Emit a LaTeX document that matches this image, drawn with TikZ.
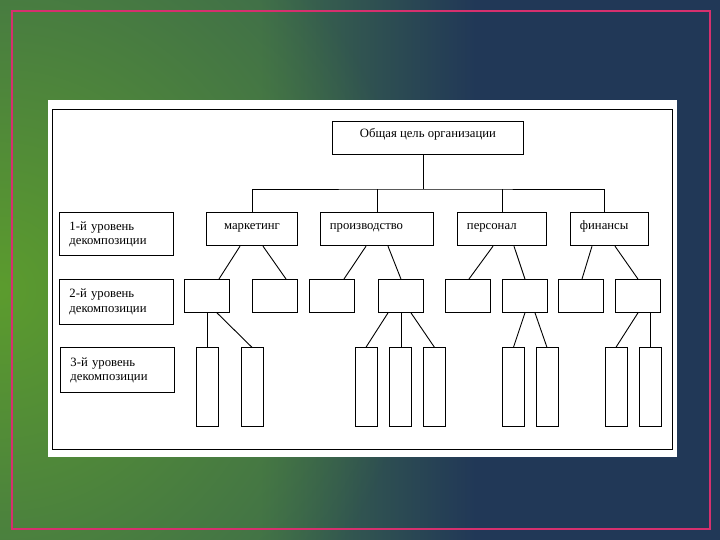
\documentclass[tikz,border=0pt]{standalone}
\usepackage{fontspec}
\setmainfont{Liberation Serif}
\usepackage{xcolor}
\usepackage{tikz}
\usetikzlibrary{calc,fadings}
\definecolor{bggreen}{HTML}{5C9C2E}
\definecolor{bgmid}{HTML}{3E6C4B}
\definecolor{bgnavy}{HTML}{213857}
\definecolor{rim}{HTML}{D6306E}
\pgfdeclarehorizontalshading{bgsh}{100bp}{color(0bp)=(bgmid); color(43bp)=(bgmid); color(58bp)=(bgnavy); color(100bp)=(bgnavy)}
\tikzfading[name=glow, inner color=transparent!0, outer color=transparent!100]

\begin{document}
\begin{tikzpicture}[x=1pt, y=-1pt, line width=0.9pt, font=\fontsize{12.7pt}{14.5pt}\selectfont,
  bx/.style={draw, anchor=north west, inner ysep=4pt, text height=12.5pt, text depth=12.5pt},
  bxl/.style={bx, align=left, inner xsep=9.5pt},
  lv/.style={draw, anchor=north west, align=left, inner xsep=10pt, text width=94pt, minimum height=43pt},
  sq/.style={draw, anchor=north west, inner sep=0pt, minimum width=45pt, minimum height=33pt},
  cl/.style={draw, anchor=north west, inner sep=0pt, minimum width=22pt, minimum height=79pt}]
\useasboundingbox (0,0) rectangle (720,540);
% slide background
\begin{scope}
\clip (0,0) rectangle (720,540);
\shade[shading=bgsh] (0,0) rectangle (720,540);
\fill[bggreen, path fading=glow] (0,290) ellipse (420 and 440);
\end{scope}
\draw[rim, line width=2pt] (11.5,11) rectangle (709.5,529);
\fill[white] (48,100) rectangle (677,457);
\draw (52.7,109) rectangle (672.3,449.3);
% boxes
\node[bx, minimum width=191pt] (goal) at (332,121) {Общая цель организации};
\node[bx, minimum width=91pt] (mk) at (206,212.3) {маркетинг};
\node[bxl, text width=94pt] (pr) at (320,212.3) {производство};
\node[bxl, text width=70pt] (ps) at (457,212.3) {персонал};
\node[bxl, text width=59pt] (fn) at (570,212.3) {финансы};
\node[lv] (lv1) at (59,212.3) {1-й уровень\\декомпозиции};
\node[lv, minimum height=45pt] (lv2) at (59,279) {2-й уровень\\декомпозиции};
\node[lv, minimum height=45pt] (lv3) at (60,347.3) {3-й уровень\\декомпозиции};
\node[sq] (s1) at (184,279) {};
\node[sq] (s2) at (252,279) {};
\node[sq] (s3) at (309,279) {};
\node[sq] (s4) at (378,279) {};
\node[sq] (s5) at (445,279) {};
\node[sq] (s6) at (502,279) {};
\node[sq] (s7) at (558,279) {};
\node[sq] (s8) at (615,279) {};
\node[cl] (c1) at (196,347.3) {};
\node[cl] (c2) at (240.5,347.3) {};
\node[cl] (c3) at (354.5,347.3) {};
\node[cl] (c4) at (388.5,347.3) {};
\node[cl] (c5) at (423,347.3) {};
\node[cl] (c6) at (502,347.3) {};
\node[cl] (c7) at (535.5,347.3) {};
\node[cl] (c8) at (604.5,347.3) {};
\node[cl] (c9) at (638.5,347.3) {};
% tree lines
\coordinate (bus) at (423,189);
\draw (bus) -- (bus |- goal.south);
\draw (mk.north) |- (bus) -| ($(fn.north)+(-5,0)$);
\draw (pr.north) -- (pr.north |- bus);
\draw (ps.north) -- (ps.north |- bus);
\draw ($(mk.south west)+(34,0)$) -- ($(s1.north west)+(35,0)$);
\draw ($(mk.south west)+(57,0)$) -- ($(s2.north west)+(34,0)$);
\draw ($(pr.south west)+(46,0)$) -- ($(s3.north west)+(35,0)$);
\draw ($(pr.south west)+(68,0)$) -- (s4.north);
\draw ($(ps.south west)+(36,0)$) -- ($(s5.north west)+(24,0)$);
\draw ($(ps.south west)+(57,0)$) -- (s6.north);
\draw ($(fn.south west)+(22,0)$) -- ($(s7.north west)+(24,0)$);
\draw ($(fn.south west)+(45,0)$) -- (s8.north);
\draw (s1.south) -- (s1.south |- c1.north);
\draw ($(s1.south west)+(33,0)$) -- (c2.north);
\draw ($(s4.south west)+(10,0)$) -- (c3.north);
\draw (s4.south) -- (s4.south |- c4.north);
\draw ($(s4.south west)+(33,0)$) -- (c5.north);
\draw (s6.south) -- (c6.north);
\draw ($(s6.south west)+(33,0)$) -- (c7.north);
\draw (s8.south) -- (c8.north);
\draw (c9.north |- s8.south) -- (c9.north);
\end{tikzpicture}
\end{document}
